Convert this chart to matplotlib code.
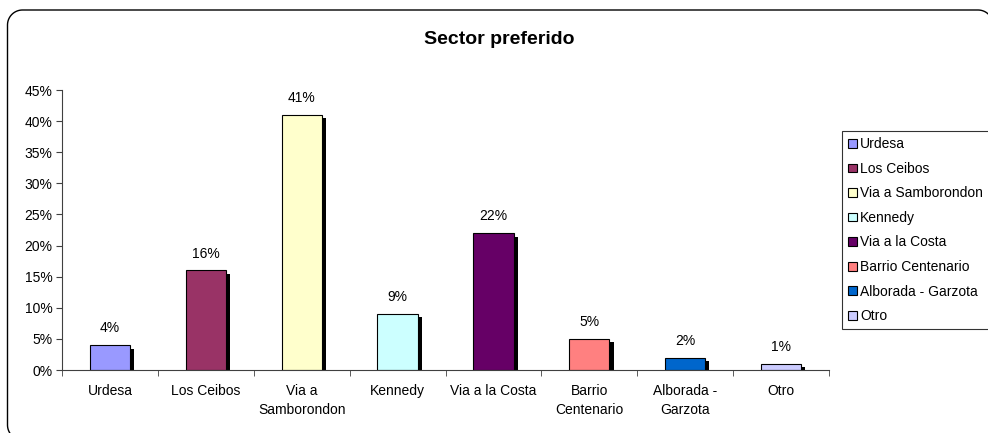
import matplotlib
matplotlib.use('Agg')
import matplotlib.pyplot as plt
import matplotlib.patheffects as pe
from matplotlib.patches import Patch
from matplotlib.lines import Line2D
import numpy as np
from matplotlib.ticker import FixedLocator, PercentFormatter

plt.rcParams['font.family'] = ['Liberation Sans', 'DejaVu Sans']

# Data
sectors = ['Urdesa', 'Los Ceibos', 'Via a Samborondon', 'Kennedy',
           'Via a la Costa', 'Barrio Centenario', 'Alborada - Garzota', 'Otro']
tick_labels = ['Urdesa', 'Los Ceibos', 'Via a\nSamborondon', 'Kennedy',
               'Via a la Costa', 'Barrio\nCentenario', 'Alborada -\nGarzota', 'Otro']
values = [4, 16, 41, 9, 22, 5, 2, 1]
colors = ['#9999FF', '#993366', '#FFFFCC', '#CCFFFF',
          '#660066', '#FF8080', '#0066CC', '#CCCCFF']

fig = plt.figure(figsize=(9.88, 4.33), dpi=100)
ax = fig.add_axes([62 / 988, 1 - 370 / 433, (829 - 62) / 988, (370 - 90) / 433])

# outer frame (px -> figure fraction): left edge, rounded corners, top edge
W, H = 988.0, 433.0
r = 15.0
left, top, right, bottom = 7.5, 10.0, 993.0, 440.0
t = np.linspace(0, np.pi / 2, 20)
px = np.concatenate([
    left + r - r * np.cos(t)[::-1],            # bottom-left corner
    left + r - r * np.cos(t),                  # top-left corner
    right - r + r * np.sin(t),                 # top-right corner
])
py = np.concatenate([
    bottom - r + r * np.sin(t)[::-1],
    top + r - r * np.sin(t),
    top + r - r * np.cos(t),
])
fig.add_artist(Line2D(px / W, 1 - py / H, transform=fig.transFigure,
                      color='black', linewidth=1.0))

x = range(len(values))
bars = ax.bar(x, values, width=0.42, color=colors, edgecolor='black', linewidth=0.8)
for b in bars:
    b.set_path_effects([pe.SimplePatchShadow(offset=(3, -2.5), shadow_rgbFace='black', alpha=1.0),
                        pe.Normal()])

for xi, v in zip(x, values):
    ax.annotate(f'{v}%', (xi, v), xytext=(0, 7), textcoords='offset points',
                ha='center', va='bottom', fontsize=10)

ax.set_xlim(-0.5, len(values) - 0.5)
ax.set_ylim(0, 45)
ax.yaxis.set_major_locator(FixedLocator(range(0, 50, 5)))
ax.yaxis.set_major_formatter(PercentFormatter(decimals=0))
ax.set_xticks(list(x))
ax.set_xticklabels(tick_labels, fontsize=10, va='top', linespacing=1.5)
ax.xaxis.set_minor_locator(FixedLocator([i - 0.5 for i in range(len(values) + 1)]))
ax.tick_params(axis='x', which='major', length=0, pad=10)
ax.tick_params(axis='x', which='minor', length=4, direction='out', color='#404040')
ax.tick_params(axis='y', labelsize=10, length=4, direction='out', color='#404040', pad=3)

for s in ['top', 'right']:
    ax.spines[s].set_visible(False)
for s in ['left', 'bottom']:
    ax.spines[s].set_color('#404040')
    ax.spines[s].set_linewidth(0.8)

fig.text(499 / 988, 1 - 40 / 433, 'Sector preferido', ha='center', va='center',
         fontsize=14, fontweight='bold')

handles = [Patch(facecolor=c, edgecolor='black', linewidth=0.8) for c in colors]
leg = fig.legend(handles, sectors, loc='upper left',
                 bbox_to_anchor=(842 / 988, 1 - 131 / 433), fontsize=10,
                 frameon=True, fancybox=False, edgecolor='black',
                 handlelength=0.6, handleheight=0.6, handletextpad=0.25,
                 labelspacing=0.76, borderpad=0.45, borderaxespad=0)
leg.get_frame().set_linewidth(0.8)

fig.savefig('out.png', dpi=100)
